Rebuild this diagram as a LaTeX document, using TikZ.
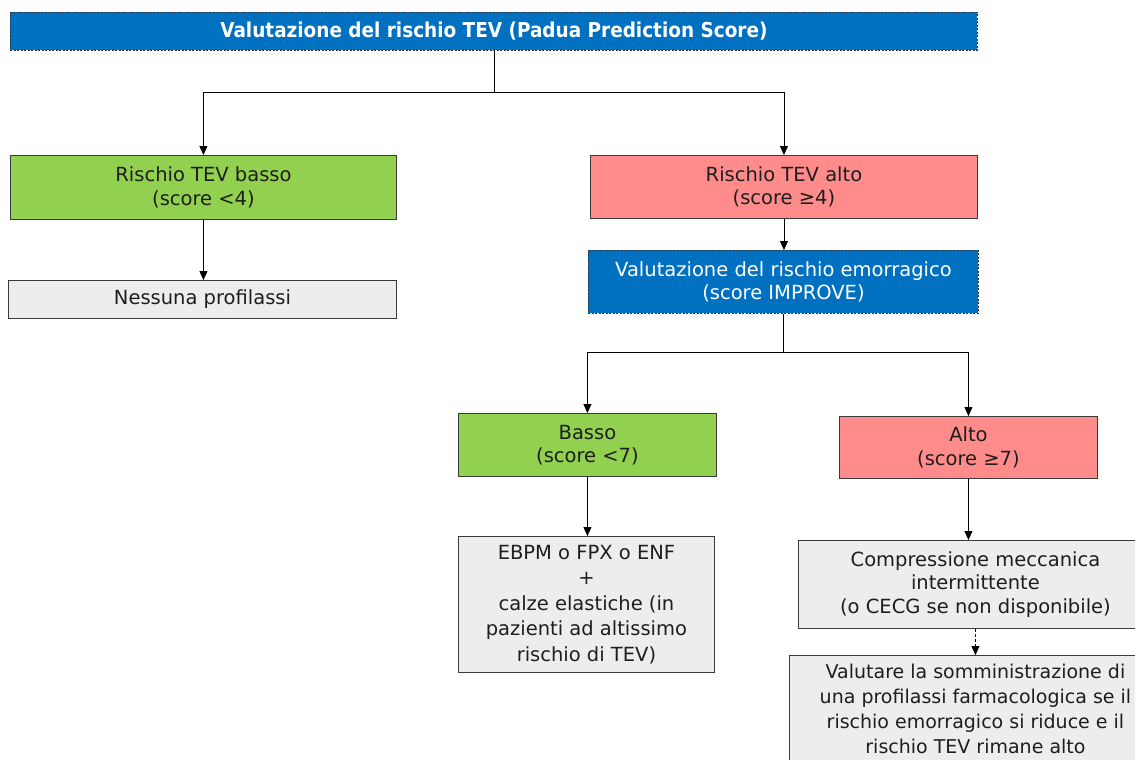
\documentclass[tikz,border=0pt]{standalone}
\usepackage{fontspec}
\setmainfont{DejaVu Sans}
\newfontfamily\condfont{DejaVu Sans Condensed}
\usetikzlibrary{arrows.meta}
\definecolor{bluebox}{HTML}{0070C0}
\definecolor{greenbox}{HTML}{92D050}
\definecolor{pinkbox}{HTML}{FF8B8B}
\definecolor{graybox}{HTML}{EDEDED}
\definecolor{edgecol}{HTML}{3A3A3A}
\definecolor{txt}{HTML}{1E1E1E}
\tikzset{
  box/.style={draw=edgecol, line width=0.9pt, align=center, inner sep=0pt, text=txt, font=\fontsize{19.5}{23.5}\selectfont, anchor=north west},
  bluestyle/.style={box, fill=bluebox, dashed, dash pattern=on 2pt off 1.5pt, draw=black!80, text=white},
  greenstyle/.style={box, fill=greenbox},
  pinkstyle/.style={box, fill=pinkbox},
  graystyle/.style={box, fill=graybox},
  arr/.style={draw=black, line width=0.9pt, -{Triangle[length=9pt,width=8pt]}},
  ln/.style={draw=black, line width=0.9pt},
}
\begin{document}
\begin{tikzpicture}[x=1pt,y=-1pt]
\useasboundingbox (0,0) rectangle (1135,760);
\clip (0,0) rectangle (1135,760);
\fill[white] (0,0) rectangle (1135,760);

\node[bluestyle, minimum width=967pt, minimum height=38pt, font=\condfont\bfseries\fontsize{20.5}{24}\selectfont] (top) at (10,12) {Valutazione del rischio TEV (Padua Prediction Score)};

\node[greenstyle, minimum width=386pt, minimum height=64pt] (low) at (10,155) {Rischio TEV basso\\(score <4)};
\node[pinkstyle, minimum width=387pt, minimum height=63pt] (high) at (590,155) {Rischio TEV alto\\(score ≥4)};

\node[graystyle, minimum width=388pt, minimum height=38pt] (none) at (8,280) {Nessuna profilassi};

\node[bluestyle, minimum width=390pt, minimum height=63pt] (bleed) at (588,250) {Valutazione del rischio emorragico\\(score IMPROVE)};

\node[greenstyle, minimum width=258pt, minimum height=63pt] (basso) at (458,413) {Basso\\(score <7)};
\node[pinkstyle, minimum width=258pt, minimum height=62pt] (alto) at (839,416) {Alto\\(score ≥7)};

\node[graystyle, minimum width=256pt, minimum height=136pt, font=\fontsize{19.5}{25.5}\selectfont] (ebpm) at (458,536) {EBPM o FPX o ENF\\+\\calze elastiche (in\\pazienti ad altissimo\\rischio di TEV)};

\node[graystyle, minimum width=354pt, minimum height=88pt] (comp) at (798,540) {Compressione meccanica\\intermittente\\(o CECG se non disponibile)};

\node[graystyle, minimum width=372pt, minimum height=106pt, font=\fontsize{19}{25}\selectfont] (valut) at (789,655) {Valutare la somministrazione di\\una profilassi farmacologica se il\\rischio emorragico si riduce e il\\rischio TEV rimane alto};

\coordinate (j1) at (top.south |- 0,92);
\draw[ln] (top.south) -- (j1);
\draw[arr] (j1) -| (low.north);
\draw[arr] (j1) -| (high.north);
\draw[arr] (low.south) -- (low.south |- none.north);
\draw[arr] (high.south) -- (high.south |- bleed.north);

\coordinate (j2) at (bleed.south |- 0,352);
\draw[ln] (bleed.south) -- (j2);
\draw[arr] (j2) -| (basso.north);
\draw[arr] (j2) -| (alto.north);
\draw[arr] (basso.south) -- (basso.south |- ebpm.north);
\draw[arr] (alto.south) -- (alto.south |- comp.north);
\draw[arr, dashed, dash pattern=on 3pt off 2pt] (comp.south) -- (valut.north);
\end{tikzpicture}
\end{document}
